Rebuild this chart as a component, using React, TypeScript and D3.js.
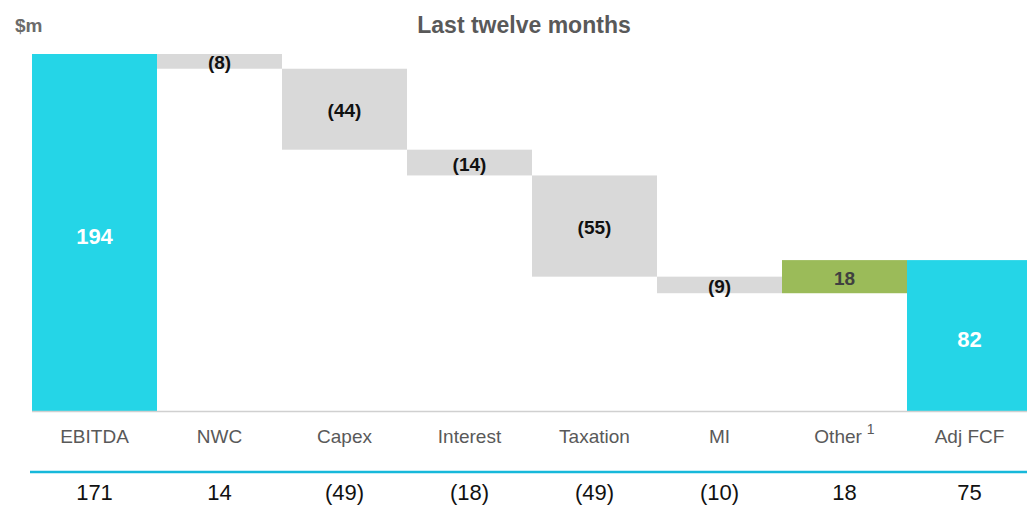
import React from "react";
import * as d3 from "d3";

const categories = ["EBITDA", "NWC", "Capex", "Interest", "Taxation", "MI", "Other", "Adj FCF"];
const changes = [194, -8, -44, -14, -55, -9, 18, 82];
const kinds = ["total", "delta", "delta", "delta", "delta", "delta", "delta", "total"];
const barLabels = ["194", "(8)", "(44)", "(14)", "(55)", "(9)", "18", "82"];
const priorValues = ["171", "14", "(49)", "(18)", "(49)", "(10)", "18", "75"];

const W = 1027;
const H = 507;
const FONT = "'Liberation Sans', Arial, sans-serif";

export default function App() {
  const x = d3.scaleBand<string>().domain(categories).range([32, 1032]).padding(0);
  const y = d3.scaleLinear().domain([0, 194]).range([411, 54]);

  let running = 0;
  const bars = categories.map((c, i) => {
    let y0: number, y1: number;
    if (kinds[i] === "total") {
      y0 = 0;
      y1 = changes[i];
      running = changes[i];
    } else {
      y0 = running;
      y1 = running + changes[i];
      running = y1;
    }
    const top = y(Math.max(y0, y1));
    const bottom = y(Math.min(y0, y1));
    let fill = "#d9d9d9";
    let textColor = "#111";
    if (kinds[i] === "total") {
      fill = "#25d5e7";
      textColor = "#ffffff";
    } else if (changes[i] > 0) {
      fill = "#9bbb59";
      textColor = "#404040";
    }
    return { c, i, top, bottom, fill, textColor, total: kinds[i] === "total" };
  });

  return (
    <svg width={W} height={H} style={{ position: "absolute", left: 0, top: 0, background: "#fff" }} fontFamily={FONT}>
      <text x={15} y={32} fontSize={19} fontWeight="bold" fill="#6b6b6b">$m</text>
      <text x={524} y={33} fontSize={23} fontWeight="bold" fill="#595959" textAnchor="middle">Last twelve months</text>
      {bars.map((b) => (
        <g key={b.c}>
          <rect x={x(b.c)!} y={b.top} width={x.bandwidth()} height={b.bottom - b.top} fill={b.fill} />
          <text
            x={x(b.c)! + x.bandwidth() / 2}
            y={(b.top + b.bottom) / 2 + (b.total ? 11 : 8)}
            textAnchor="middle"
            fontSize={b.total ? 22 : 19}
            fontWeight="bold"
            fill={b.textColor}
          >
            {barLabels[b.i]}
          </text>
        </g>
      ))}
      <line x1={32} x2={W} y1={411.5} y2={411.5} stroke="#d0d0d0" strokeWidth={1.5} />
      {categories.map((c, i) => (
        <text key={c} x={x(c)! + x.bandwidth() / 2} y={443} textAnchor="middle" fontSize={19} fill="#595959">
          {c}
          {c === "Other" ? <tspan dx={5} dy={-9} fontSize={14}>1</tspan> : null}
        </text>
      ))}
      <line x1={30} x2={W} y1={472} y2={472} stroke="#17b8da" strokeWidth={2.5} />
      {categories.map((c, i) => (
        <text key={c + "p"} x={x(c)! + x.bandwidth() / 2} y={500} textAnchor="middle" fontSize={22} fill="#111">
          {priorValues[i]}
        </text>
      ))}
    </svg>
  );
}
